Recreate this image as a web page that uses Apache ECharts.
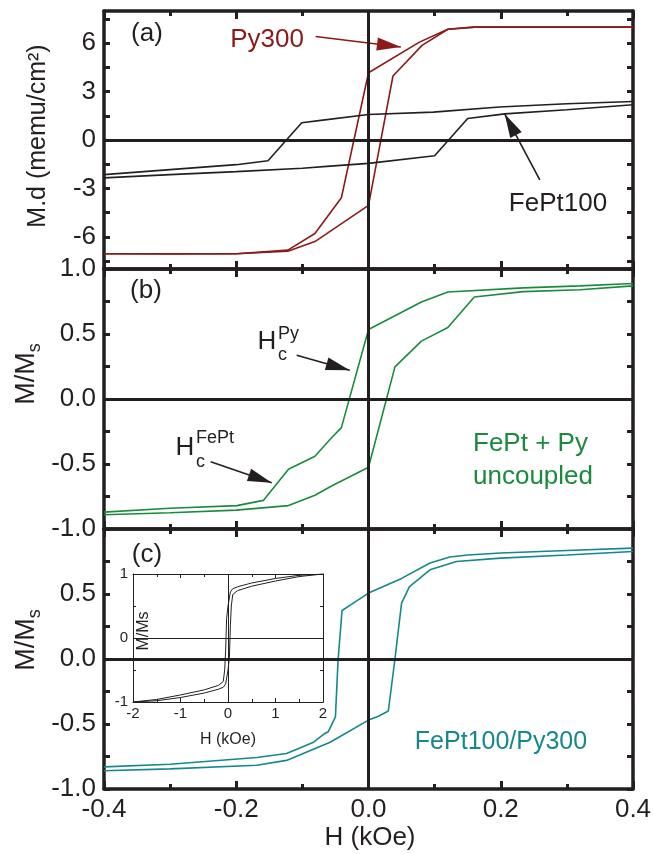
<!DOCTYPE html>
<html>
<head>
<meta charset="utf-8">
<script src="https://cdn.jsdelivr.net/npm/echarts@6.0.0/dist/echarts.min.js"></script>
<style>
  html, body { margin: 0; padding: 0; background: #fff; }
  #chart { width: 653px; height: 854px; }
</style>
</head>
<body>
<div id="chart"></div>
<script>
// ---- panel (a): M.d in memu/cm^2 ----
const pyDownH = [0.4, 0.16, 0.12, 0.077, 0, -0.041, -0.081, -0.122, -0.2, -0.3, -0.4];
const pyDownM = [7.0, 7.0, 6.87, 6.07, 4.17, -3.58, -5.8, -6.83, -7.05, -7.05, -7.05];
const pyUpH = [-0.4, -0.3, -0.2, -0.122, -0.081, 0, 0.037, 0.081, 0.12, 0.16, 0.4];
const pyUpM = [-7.05, -7.07, -7.05, -6.9, -6.3, -4.05, 3.97, 5.87, 6.87, 7.0, 7.0];

const feptDownH = [0.4, 0.3, 0.198, 0.098, 0, -0.069, -0.101, -0.152, -0.2, -0.3, -0.4];
const feptDownM = [2.39, 2.25, 2.05, 1.73, 1.58, 1.23, 1.07, -1.29, -1.53, -1.84, -2.15];
const feptUpH = [-0.4, -0.3, -0.2, -0.1, -0.058, 0, 0.1, 0.15, 0.206, 0.3, 0.4];
const feptUpM = [-2.35, -2.15, -1.96, -1.75, -1.62, -1.45, -0.98, 1.33, 1.62, 1.88, 2.19];

// ---- panel (b): FePt + Py uncoupled, M/Ms ----
const sumDownH = [0.4, 0.32, 0.234, 0.12, 0.08, 0, -0.041, -0.058, -0.081, -0.121, -0.159, -0.199, -0.3, -0.4];
const sumDownM = [0.888, 0.87, 0.855, 0.823, 0.746, 0.535, -0.22, -0.31, -0.44, -0.54, -0.78, -0.82, -0.84, -0.87];
const sumUpH = [-0.4, -0.3, -0.2, -0.121, -0.081, -0.058, 0, 0.04, 0.08, 0.12, 0.16, 0.234, 0.32, 0.4];
const sumUpM = [-0.89, -0.875, -0.855, -0.82, -0.74, -0.675, -0.525, 0.247, 0.445, 0.55, 0.785, 0.826, 0.84, 0.87];

// ---- panel (c): FePt100/Py300 bilayer, M/Ms ----
const biDownH = [0.4, 0.3, 0.2, 0.15, 0.123, 0.093, 0.05, 0, -0.023, -0.04, -0.046, -0.05, -0.061, -0.066, -0.083, -0.124, -0.169, -0.3, -0.4];
const biDownM = [0.853, 0.835, 0.815, 0.8, 0.784, 0.738, 0.62, 0.507, 0.43, 0.373, -0.008, -0.445, -0.56, -0.573, -0.64, -0.727, -0.758, -0.81, -0.83];
const biUpH = [-0.4, -0.3, -0.169, -0.124, -0.058, 0, 0.015, 0.03, 0.04, 0.05, 0.062, 0.093, 0.133, 0.2, 0.3, 0.4];
const biUpM = [-0.86, -0.845, -0.817, -0.78, -0.64, -0.47, -0.44, -0.4, 0, 0.43, 0.557, 0.686, 0.75, 0.776, 0.8, 0.827];

// ---- inset: wide-field loop of the bilayer ----
const insetDownH = [2, 1.5, 1, 0.5, 0.2, 0.1, 0.05, 0, -0.03, -0.05, -0.07, -0.1, -0.2, -0.5, -1, -1.5, -2];
const insetDownM = [1.0, 0.98, 0.93, 0.86, 0.8, 0.77, 0.72, 0.5, 0.3, -0.2, -0.5, -0.68, -0.74, -0.81, -0.89, -0.96, -1.0];
const insetUpH = [-2, -1.5, -1, -0.5, -0.2, -0.1, -0.05, 0, 0.03, 0.05, 0.07, 0.1, 0.2, 0.5, 1, 1.5, 2];
const insetUpM = [-1.0, -0.98, -0.93, -0.86, -0.8, -0.77, -0.72, -0.5, -0.3, 0.2, 0.5, 0.68, 0.74, 0.81, 0.89, 0.96, 1.0];

// tick positions / labels
const xTicks = [-0.4, -0.2, 0.0, 0.2, 0.4];
const aTicks = [-7.5, -6, -4.5, -3, -1.5, 0, 1.5, 3, 4.5, 6, 7.5];
const aLabels = [-6, -3, 0, 3, 6];

const ink = '#231f20';
const red = '#8b1a1a';
const green = '#1c8a3e';
const teal = '#16878a';
const font = '"Liberation Sans", Arial, sans-serif';

const pairs = (xs, ys) => xs.map((x, i) => [x, ys[i]]);

const chart = echarts.init(document.getElementById('chart'));

const grids = [
  { left: 104, right: 20, top: 11, height: 258 },
  { left: 104, right: 20, top: 269, height: 260 },
  { left: 104, right: 20, top: 529, height: 260 },
  { left: 133, top: 574, width: 190, height: 128, show: true, backgroundColor: '#fff', borderWidth: 0, z: 5 }
].map(g => Object.assign({ outerBoundsMode: 'none' }, g));

function mainX(grid, pos, labels) {
  return {
    type: 'value', gridIndex: grid, position: pos,
    min: xTicks[0], max: xTicks[xTicks.length - 1], interval: 0.2,
    axisLine: { show: true, onZero: false, lineStyle: { color: ink, width: 3.5 } },
    axisTick: { show: true, inside: true, length: 8, lineStyle: { color: ink, width: 3 } },
    minorTick: { show: true, splitNumber: 2, length: 5, lineStyle: { color: ink, width: 3 } },
    axisLabel: { show: labels, margin: 8, fontSize: 26, fontFamily: font, color: ink,
                 formatter: v => v.toFixed(1) },
    splitLine: { show: false }, minorSplitLine: { show: false }
  };
}

function mainY(grid, pos, labels, extra) {
  return Object.assign({
    type: 'value', gridIndex: grid, position: pos,
    min: -1, max: 1, interval: 0.5,
    axisLine: { show: true, onZero: false, lineStyle: { color: ink, width: 3.5 } },
    axisTick: { show: true, inside: true, length: 6, lineStyle: { color: ink, width: 3 } },
    minorTick: { show: true, splitNumber: 2, length: 6, lineStyle: { color: ink, width: 3 } },
    axisLabel: { show: labels, margin: 8, fontSize: 26, fontFamily: font, color: ink,
                 formatter: v => v.toFixed(1) },
    splitLine: { show: false }, minorSplitLine: { show: false }
  }, extra || {});
}

function insetAxis(isX, pos, labels) {
  return {
    type: 'value', gridIndex: 3, position: pos, z: 6,
    min: isX ? -2 : -1, max: isX ? 2 : 1, interval: 1,
    axisLine: { show: true, onZero: false, lineStyle: { color: ink, width: 1 } },
    axisTick: { show: true, inside: true, length: 4, lineStyle: { color: ink, width: 1 } },
    minorTick: { show: true, splitNumber: 2, length: 3, lineStyle: { color: ink, width: 1 } },
    axisLabel: { show: labels, margin: isX ? 4 : 5, fontSize: 15, fontFamily: font, color: ink },
    splitLine: { show: false }, minorSplitLine: { show: false }
  };
}

const aExtra = {
  min: -8, max: 8, interval: 1.5, minorTick: { show: false },
  axisTick: { show: true, inside: true, length: 6, customValues: aTicks, lineStyle: { color: ink, width: 3 } },
  axisLabel: { margin: 8, fontSize: 26, fontFamily: font, color: ink, customValues: aLabels }
};

const xAxes = [
  mainX(0, 'bottom', false), mainX(0, 'top', false),
  mainX(1, 'bottom', false), mainX(1, 'top', false),
  mainX(2, 'bottom', true), mainX(2, 'top', false),
  insetAxis(true, 'bottom', true), insetAxis(true, 'top', false)
];
const aLeft = mainY(0, 'left', true, aExtra);
const aRight = mainY(0, 'right', false, aExtra);
aRight.axisLabel = Object.assign({}, aExtra.axisLabel, { show: false });
const yAxes = [
  aLeft, aRight,
  mainY(1, 'left', true), mainY(1, 'right', false),
  mainY(2, 'left', true, { axisLabel: { margin: 8, fontSize: 26, fontFamily: font, color: ink,
    formatter: v => (v === 1 ? '' : v.toFixed(1)) } }),
  mainY(2, 'right', false),
  insetAxis(false, 'left', true), insetAxis(false, 'right', false)
];

// x index of bottom axis for grid g is 2g, y index of left axis is 2g
function curve(g, xs, ys, color, extra) {
  return Object.assign({
    type: 'line', xAxisIndex: 2 * g, yAxisIndex: 2 * g,
    data: pairs(xs, ys), showSymbol: false, symbol: 'none',
    lineStyle: { color: color, width: 1.6 }, itemStyle: { color: color },
    silent: true, animation: false, z: g === 3 ? 7 : 2
  }, extra || {});
}

function zeroLines(width) {
  return {
    silent: true, symbol: 'none', animation: false,
    label: { show: false },
    lineStyle: { color: ink, width: width, type: 'solid' },
    data: [{ yAxis: 0 }, { xAxis: 0 }]
  };
}

// narrow filled arrow head, tip placed on the end coordinate
const headPath = 'path://M0,0 L6.5,24 L-6.5,24 Z';
function arrows(color, list) {
  return {
    silent: true, animation: false,
    symbol: ['none', headPath],
    symbolSize: 24,
    symbolKeepAspect: true,
    symbolOffset: [0, [0, 12]],
    label: { show: false },
    lineStyle: { color: color, width: 1.6, type: 'solid' },
    itemStyle: { color: color },
    data: list.map(a => [{ coord: a[0] }, { coord: a[1] }])
  };
}

const series = [
  curve(0, pyDownH, pyDownM, red, { markLine: arrows(red, [[[-0.08, 6.42], [0.049, 5.77]]]) }),
  curve(0, pyUpH, pyUpM, red),
  curve(0, feptDownH, feptDownM, ink, { markLine: zeroLines(3) }),
  curve(0, feptUpH, feptUpM, ink, { markLine: arrows(ink, [[[0.259, -2.47], [0.206, 1.62]]]) }),

  curve(1, sumDownH, sumDownM, green, { markLine: zeroLines(3) }),
  curve(1, sumUpH, sumUpM, green, { markLine: arrows(ink, [
    [[-0.1086, 0.337], [-0.0284, 0.221]],
    [[-0.2387, -0.482], [-0.1464, -0.644]]
  ]) }),

  curve(2, biDownH, biDownM, teal, { markLine: zeroLines(3) }),
  curve(2, biUpH, biUpM, teal),

  curve(3, insetDownH, insetDownM, ink, { lineStyle: { color: ink, width: 1 }, markLine: zeroLines(1) }),
  curve(3, insetUpH, insetUpM, ink, { lineStyle: { color: ink, width: 1 } })
];

function txt(x, y, text, size, color, align, extra) {
  return Object.assign({
    type: 'text', x: x, y: y, z: 20, silent: true,
    style: { text: text, fontSize: size, fontFamily: font, fill: color || ink,
             align: align || 'center', verticalAlign: 'middle' }
  }, extra || {});
}

function msTitle(y) {
  return {
    type: 'text', x: 27, y: y, z: 20, silent: true, rotation: Math.PI / 2,
    style: {
      text: '{a|M/M}{b|s}', align: 'center', verticalAlign: 'middle', fill: ink,
      rich: {
        a: { fontSize: 27, fontFamily: font, fill: ink, lineHeight: 34, verticalAlign: 'middle' },
        b: { fontSize: 18, fontFamily: font, fill: ink, lineHeight: 17, verticalAlign: 'bottom' }
      }
    }
  };
}

const graphic = [
  txt(147, 34, '(a)', 26),
  txt(146, 291, '(b)', 26),
  txt(147, 555, '(c)', 26),
  txt(267, 40, 'Py300', 26, red),
  txt(558, 204, 'FePt100', 26),
  txt(267, 342, 'H', 26),
  txt(278, 355, 'c', 18, ink, 'left'),
  txt(278, 334, 'Py', 18, ink, 'left'),
  txt(185, 448, 'H', 26),
  txt(196, 462, 'c', 18, ink, 'left'),
  txt(196, 438, 'FePt', 18, ink, 'left'),
  txt(473, 444, 'FePt + Py', 26, green, 'left'),
  txt(473, 477, 'uncoupled', 26, green, 'left'),
  txt(501, 742, 'FePt100/Py300', 25, teal),
  txt(370, 838, 'H (kOe)', 26),
  txt(228, 740, 'H (kOe)', 16),
  txt(144, 631, 'M/Ms', 16, ink, 'center', { rotation: Math.PI / 2 }),
  txt(38, 136, 'M.d (memu/cm\u00b2)', 25, ink, 'center', { rotation: Math.PI / 2 }),
  msTitle(374),
  msTitle(640)
];

chart.setOption({
  animation: false,
  backgroundColor: '#fff',
  grid: grids,
  xAxis: xAxes,
  yAxis: yAxes,
  series: series,
  graphic: graphic
});
</script>
</body>
</html>
